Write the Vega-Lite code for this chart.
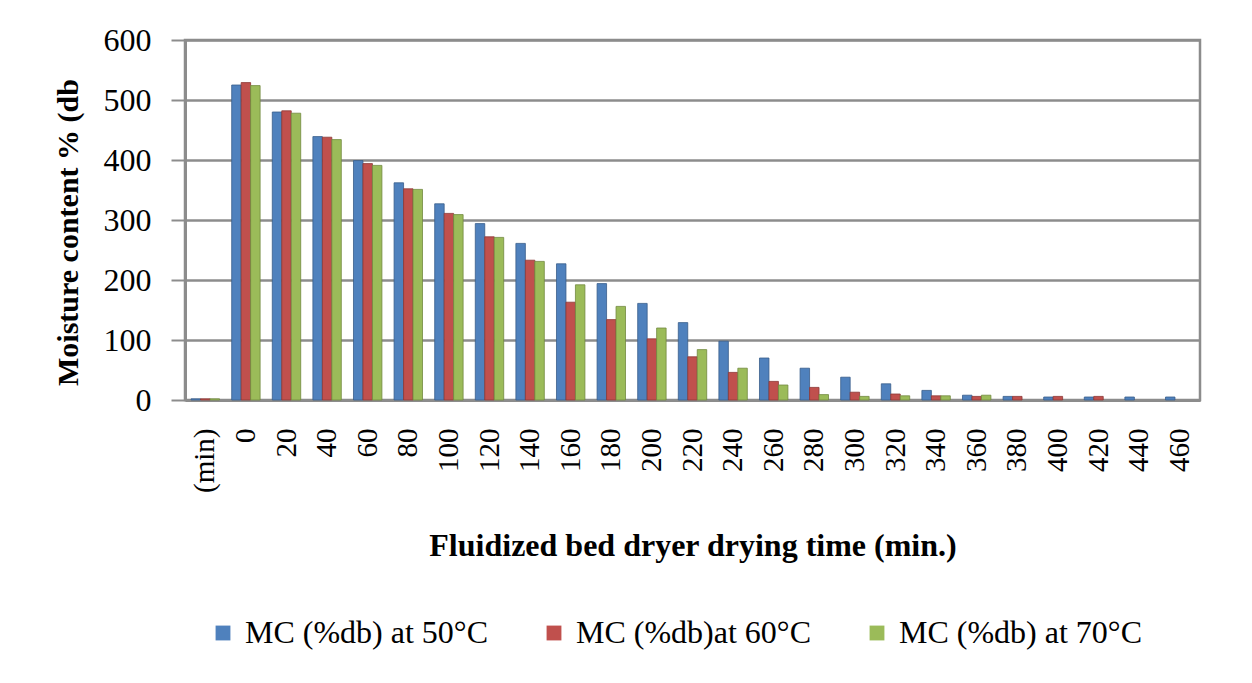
{
  "$schema": "https://vega.github.io/schema/vega-lite/v6.json",
  "width": 1015,
  "height": 360,
  "autosize": "none",
  "padding": {"left": 185, "top": 40, "right": 52, "bottom": 283},
  "background": "white",
  "data": {
    "values": [
      {"time": "(min)", "series": "MC (%db) at 50°C", "mc": 2},
      {"time": "(min)", "series": "MC (%db)at 60°C", "mc": 2},
      {"time": "(min)", "series": "MC (%db) at 70°C", "mc": 2},
      {"time": "0", "series": "MC (%db) at 50°C", "mc": 525},
      {"time": "0", "series": "MC (%db)at 60°C", "mc": 529},
      {"time": "0", "series": "MC (%db) at 70°C", "mc": 524},
      {"time": "20", "series": "MC (%db) at 50°C", "mc": 480},
      {"time": "20", "series": "MC (%db)at 60°C", "mc": 482},
      {"time": "20", "series": "MC (%db) at 70°C", "mc": 478},
      {"time": "40", "series": "MC (%db) at 50°C", "mc": 439},
      {"time": "40", "series": "MC (%db)at 60°C", "mc": 438},
      {"time": "40", "series": "MC (%db) at 70°C", "mc": 434},
      {"time": "60", "series": "MC (%db) at 50°C", "mc": 399},
      {"time": "60", "series": "MC (%db)at 60°C", "mc": 394},
      {"time": "60", "series": "MC (%db) at 70°C", "mc": 391},
      {"time": "80", "series": "MC (%db) at 50°C", "mc": 362},
      {"time": "80", "series": "MC (%db)at 60°C", "mc": 352},
      {"time": "80", "series": "MC (%db) at 70°C", "mc": 351},
      {"time": "100", "series": "MC (%db) at 50°C", "mc": 327},
      {"time": "100", "series": "MC (%db)at 60°C", "mc": 311},
      {"time": "100", "series": "MC (%db) at 70°C", "mc": 309},
      {"time": "120", "series": "MC (%db) at 50°C", "mc": 294},
      {"time": "120", "series": "MC (%db)at 60°C", "mc": 272},
      {"time": "120", "series": "MC (%db) at 70°C", "mc": 271},
      {"time": "140", "series": "MC (%db) at 50°C", "mc": 261},
      {"time": "140", "series": "MC (%db)at 60°C", "mc": 233},
      {"time": "140", "series": "MC (%db) at 70°C", "mc": 231},
      {"time": "160", "series": "MC (%db) at 50°C", "mc": 227},
      {"time": "160", "series": "MC (%db)at 60°C", "mc": 163},
      {"time": "160", "series": "MC (%db) at 70°C", "mc": 192},
      {"time": "180", "series": "MC (%db) at 50°C", "mc": 194},
      {"time": "180", "series": "MC (%db)at 60°C", "mc": 134},
      {"time": "180", "series": "MC (%db) at 70°C", "mc": 156},
      {"time": "200", "series": "MC (%db) at 50°C", "mc": 161},
      {"time": "200", "series": "MC (%db)at 60°C", "mc": 102},
      {"time": "200", "series": "MC (%db) at 70°C", "mc": 120},
      {"time": "220", "series": "MC (%db) at 50°C", "mc": 129},
      {"time": "220", "series": "MC (%db)at 60°C", "mc": 72},
      {"time": "220", "series": "MC (%db) at 70°C", "mc": 84},
      {"time": "240", "series": "MC (%db) at 50°C", "mc": 98},
      {"time": "240", "series": "MC (%db)at 60°C", "mc": 46},
      {"time": "240", "series": "MC (%db) at 70°C", "mc": 53},
      {"time": "260", "series": "MC (%db) at 50°C", "mc": 70},
      {"time": "260", "series": "MC (%db)at 60°C", "mc": 31},
      {"time": "260", "series": "MC (%db) at 70°C", "mc": 25},
      {"time": "280", "series": "MC (%db) at 50°C", "mc": 53},
      {"time": "280", "series": "MC (%db)at 60°C", "mc": 21},
      {"time": "280", "series": "MC (%db) at 70°C", "mc": 9},
      {"time": "300", "series": "MC (%db) at 50°C", "mc": 38},
      {"time": "300", "series": "MC (%db)at 60°C", "mc": 13},
      {"time": "300", "series": "MC (%db) at 70°C", "mc": 6},
      {"time": "320", "series": "MC (%db) at 50°C", "mc": 27},
      {"time": "320", "series": "MC (%db)at 60°C", "mc": 10},
      {"time": "320", "series": "MC (%db) at 70°C", "mc": 7},
      {"time": "340", "series": "MC (%db) at 50°C", "mc": 16},
      {"time": "340", "series": "MC (%db)at 60°C", "mc": 7},
      {"time": "340", "series": "MC (%db) at 70°C", "mc": 7},
      {"time": "360", "series": "MC (%db) at 50°C", "mc": 8},
      {"time": "360", "series": "MC (%db)at 60°C", "mc": 6},
      {"time": "360", "series": "MC (%db) at 70°C", "mc": 8},
      {"time": "380", "series": "MC (%db) at 50°C", "mc": 6},
      {"time": "380", "series": "MC (%db)at 60°C", "mc": 6},
      {"time": "400", "series": "MC (%db) at 50°C", "mc": 5},
      {"time": "400", "series": "MC (%db)at 60°C", "mc": 6},
      {"time": "420", "series": "MC (%db) at 50°C", "mc": 5},
      {"time": "420", "series": "MC (%db)at 60°C", "mc": 6},
      {"time": "440", "series": "MC (%db) at 50°C", "mc": 5},
      {"time": "460", "series": "MC (%db) at 50°C", "mc": 5}
    ]
  },
  "mark": {"type": "bar", "strokeWidth": 0.8},
  "encoding": {
    "x": {
      "field": "time",
      "type": "nominal",
      "sort": null,
      "scale": {"paddingInner": 0.3, "paddingOuter": 0.15},
      "axis": {
        "title": "Fluidized bed dryer drying time (min.)",
        "titleFont": "Liberation Serif",
        "titleFontSize": 32,
        "titleFontWeight": "bold",
        "titleColor": "black",
        "titlePadding": 38,
        "labelFont": "Liberation Serif",
        "labelFontSize": 29,
        "labelColor": "black",
        "labelAngle": -90,
        "labelPadding": 28,
        "labelAlign": "right",
        "labelBaseline": "middle",
        "ticks": false,
        "domainColor": "#8c8c8c",
        "domainWidth": 3
      }
    },
    "y": {
      "field": "mc",
      "type": "quantitative",
      "scale": {"domain": [0, 600]},
      "axis": {
        "title": "Moisture content % (db",
        "titleFont": "Liberation Serif",
        "titleFontSize": 30,
        "titleFontWeight": "bold",
        "titleColor": "black",
        "titlePadding": 20,
        "titleY": 192,
        "labelFont": "Liberation Serif",
        "labelFontSize": 32,
        "labelColor": "black",
        "labelPadding": 20,
        "values": [0, 100, 200, 300, 400, 500, 600],
        "tickSize": 14,
        "tickColor": "#8c8c8c",
        "tickWidth": 2,
        "gridColor": "#8c8c8c",
        "gridWidth": 2.5,
        "domainColor": "#8c8c8c",
        "domainWidth": 3
      }
    },
    "xOffset": {"field": "series", "type": "nominal", "sort": null},
    "color": {
      "field": "series",
      "type": "nominal",
      "sort": null,
      "scale": {
        "domain": ["MC (%db) at 50°C", "MC (%db)at 60°C", "MC (%db) at 70°C"],
        "range": ["#4F81BD", "#C0504D", "#9BBB59"]
      },
      "legend": {
        "title": null,
        "orient": "none",
        "legendX": 22,
        "legendY": 577,
        "direction": "horizontal",
        "columns": 3,
        "symbolType": "square",
        "symbolSize": 220,
        "symbolStrokeWidth": 0,
        "labelFont": "Liberation Serif",
        "labelFontSize": 32,
        "labelColor": "black",
        "labelOffset": 6,
        "columnPadding": 50,
        "labelLimit": 400
      }
    },
    "stroke": {
      "field": "series",
      "type": "nominal",
      "sort": null,
      "scale": {
        "domain": ["MC (%db) at 50°C", "MC (%db)at 60°C", "MC (%db) at 70°C"],
        "range": ["#385d8a", "#8c3836", "#71893f"]
      },
      "legend": null
    }
  },
  "config": {
    "view": {"stroke": "#8c8c8c", "strokeWidth": 2.5}
  }
}
